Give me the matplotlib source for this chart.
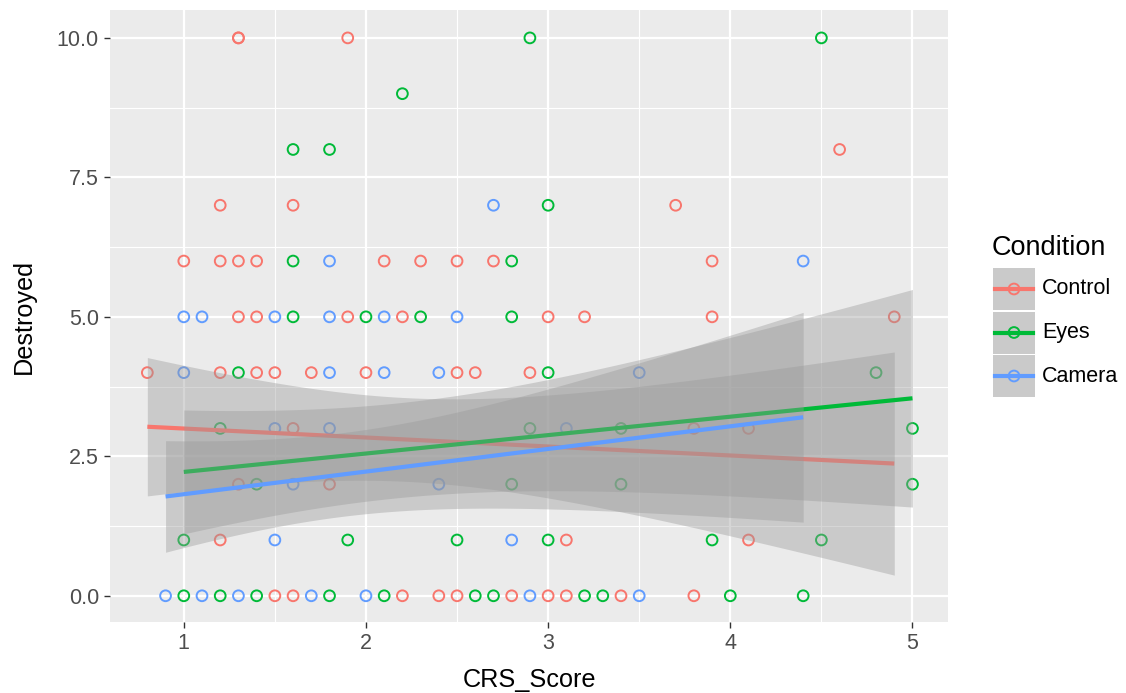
import math
import numpy as np
import matplotlib
matplotlib.use("Agg")
import matplotlib.pyplot as plt
from matplotlib.patches import Rectangle
from matplotlib.lines import Line2D

# ---- data: (CRS_Score, Destroyed) per condition ----
conditions = ["Control", "Eyes", "Camera"]
colors = ["#F8766D", "#00BA38", "#619CFF"]

control_x = [1.3, 1.3, 1.9, 4.6, 1.2, 1.6, 3.7,
             1.0, 1.2, 1.3, 1.4, 2.1, 2.3, 2.5, 2.7, 3.9,
             1.3, 1.4, 1.9, 2.2, 3.0, 3.2, 3.9, 4.9,
             0.8, 1.2, 1.4, 1.5, 1.7, 2.0, 2.5, 2.6, 2.9,
             1.6, 3.8, 4.1, 1.3, 1.8, 1.2, 3.1, 4.1,
             1.5, 1.6, 2.2, 2.4, 2.5, 2.8, 3.0, 3.1, 3.4, 3.8]
control_y = [10, 10, 10, 8, 7, 7, 7,
             6, 6, 6, 6, 6, 6, 6, 6, 6,
             5, 5, 5, 5, 5, 5, 5, 5,
             4, 4, 4, 4, 4, 4, 4, 4, 4,
             3, 3, 3, 2, 2, 1, 1, 1,
             0, 0, 0, 0, 0, 0, 0, 0, 0, 0]

eyes_x = [2.9, 4.5, 2.2, 1.6, 1.8, 3.0, 1.6, 2.8,
          1.6, 2.0, 2.3, 2.8, 1.3, 3.0, 4.8,
          1.2, 2.9, 3.4, 5.0, 1.4, 2.8, 3.4, 5.0,
          1.0, 1.9, 2.5, 3.0, 3.9, 4.5,
          1.0, 1.2, 1.4, 1.8, 2.1, 2.6, 2.7, 3.2, 3.3, 4.0, 4.4]
eyes_y = [10, 10, 9, 8, 8, 7, 6, 6,
          5, 5, 5, 5, 4, 4, 4,
          3, 3, 3, 3, 2, 2, 2, 2,
          1, 1, 1, 1, 1, 1,
          0, 0, 0, 0, 0, 0, 0, 0, 0, 0, 0]

camera_x = [2.7, 1.8, 4.4, 1.0, 1.1, 1.5, 1.8, 2.1, 2.5,
            1.0, 1.8, 2.1, 2.4, 3.5, 1.5, 1.8, 3.1,
            1.6, 2.4, 1.5, 2.8, 0.9, 1.1, 1.3, 1.7, 2.0, 2.9, 3.5]
camera_y = [7, 6, 6, 5, 5, 5, 5, 5, 5,
            4, 4, 4, 4, 4, 3, 3, 3,
            2, 2, 1, 1, 0, 0, 0, 0, 0, 0, 0]

# ---- linear-model summaries per condition (Control, Eyes, Camera) ----
fit_x_start = [0.8, 1.0, 0.9]
fit_x_end = [4.9, 5.0, 4.4]
fit_y_start = [3.03, 2.22, 1.78]
fit_y_end = [2.37, 3.54, 3.20]
ci_half_start = [1.24, 1.11, 1.00]   # 95% CI half-width at the left end
ci_half_end = [2.00, 1.95, 1.88]     # 95% CI half-width at the right end
ci_half_min = [0.75, 0.85, 0.75]     # narrowest half-width (at mean CRS_Score)

x_ticks = [1, 2, 3, 4, 5]
y_ticks = [0.0, 2.5, 5.0, 7.5, 10.0]
y_tick_labels = ["0.0", "2.5", "5.0", "7.5", "10.0"]

groups = [(control_x, control_y), (eyes_x, eyes_y), (camera_x, camera_y)]


def smooth_band(i, n=80):
    """Fitted line and hyperbolic confidence band: hw(x)^2 = A + B (x - xbar)^2."""
    x1, x2 = fit_x_start[i], fit_x_end[i]
    h1, h2, hm = ci_half_start[i], ci_half_end[i], ci_half_min[i]
    A = hm ** 2
    d1 = math.sqrt(max(h1 ** 2 - A, 0.0))
    d2 = math.sqrt(max(h2 ** 2 - A, 0.0))
    sqrtB = (d1 + d2) / (x2 - x1)
    xbar = x1 + d1 / sqrtB
    xs = np.linspace(x1, x2, n)
    slope = (fit_y_end[i] - fit_y_start[i]) / (x2 - x1)
    fit = fit_y_start[i] + slope * (xs - x1)
    hw = np.sqrt(A + sqrtB ** 2 * (xs - xbar) ** 2)
    return xs, fit, fit - hw, fit + hw


W, H = 1126, 693
fig = plt.figure(figsize=(W / 100, H / 100), dpi=100)
fig.patch.set_facecolor("white")

left, right, top, bottom = 110, 948, 10, 622
ax = fig.add_axes([left / W, 1 - bottom / H, (right - left) / W, (bottom - top) / H])
ax.set_facecolor("#EBEBEB")
for sp in ax.spines.values():
    sp.set_visible(False)

ax.set_xlim(0.595, 5.195)
ax.set_ylim(-0.47, 10.5)

font = "Liberation Sans"
ax.set_xticks(x_ticks)
ax.set_xticks([1.5, 2.5, 3.5, 4.5], minor=True)
ax.set_yticks(y_ticks)
ax.set_yticklabels(y_tick_labels)
ax.set_yticks([1.25, 3.75, 6.25, 8.75], minor=True)
ax.grid(which="major", color="white", linewidth=1.6)
ax.grid(which="minor", color="white", linewidth=0.8)
ax.set_axisbelow(True)
ax.tick_params(which="major", length=4, width=1.0, color="#333333",
               labelsize=15.5, labelcolor="#4D4D4D", pad=4)
ax.tick_params(which="minor", length=0)
for lab in ax.get_xticklabels() + ax.get_yticklabels():
    lab.set_fontfamily(font)

ax.set_xlabel("CRS_Score", fontsize=18.2, fontfamily=font, labelpad=10)
ax.set_ylabel("Destroyed", fontsize=18.2, fontfamily=font, labelpad=15)

# points first
for (gx, gy), col in zip(groups, colors):
    ax.scatter(gx, gy, s=60, facecolors="none", edgecolors=col, linewidths=1.4, zorder=2)

# linear fits with 95% confidence ribbons, ribbon then line per group
z = 3
for i, col in enumerate(colors):
    xs, fit, lo, hi = smooth_band(i)
    ax.fill_between(xs, lo, hi, color="#999999", alpha=0.4, linewidth=0, zorder=z)
    ax.plot(xs, fit, color=col, linewidth=3, solid_capstyle="butt", zorder=z + 1)
    z += 2

# legend
lax = fig.add_axes([0, 0, 1, 1])
lax.set_xlim(0, W)
lax.set_ylim(H, 0)
lax.axis("off")
lax.text(992, 248, "Condition", fontsize=19.5, fontfamily=font, va="center", ha="left")
key_top = 268
key_h = 43.5
for i, (name, col) in enumerate(zip(conditions, colors)):
    y0 = key_top + i * key_h
    lax.add_patch(Rectangle((993, y0), 42, key_h - 1.5, facecolor="#EBEBEB", edgecolor="none"))
    lax.add_patch(Rectangle((993, y0), 42, key_h - 1.5, facecolor="#999999", alpha=0.4, edgecolor="none"))
    cy = y0 + (key_h - 1.5) / 2
    lax.add_line(Line2D([995, 1033], [cy, cy], color=col, linewidth=3))
    lax.scatter([1014], [cy], s=60, facecolors="none", edgecolors=col, linewidths=1.4, zorder=5)
    lax.text(1042, cy, name, fontsize=15.5, fontfamily=font, va="center", ha="left")

fig.savefig("out.png", dpi=100)
